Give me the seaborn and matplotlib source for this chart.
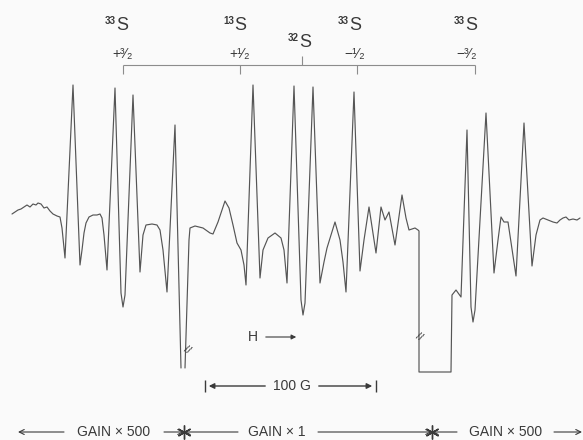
# EPR spectrum (sulfur isotopes) - redrawn from the scanned figure

import numpy as np
import pandas as pd
import seaborn as sns
import matplotlib.pyplot as plt

# trace, x in chart divisions, signal = pen deflection from baseline
left_field = [12, 15, 18, 21, 24, 27, 30, 33, 36, 38, 41, 44, 47, 50, 53, 57, 60, 62, 65,
              73, 80, 82, 84, 86, 89, 93, 97, 100, 102, 104, 107, 115, 121, 123, 125, 133,
              140, 143, 146, 152, 157, 160, 163, 167, 175, 181]
left_signal = [1, 3, 5, 6, 8, 10, 8, 11, 10, 12, 11, 7, 8, 4, 1, -1, -2, -13, -43,
               130, -50, -35, -18, -8, -2, 0, 0, 1, -3, -20, -55, 127, -78, -92, -80, 120,
               -57, -20, -10, -9, -10, -15, -35, -77, 90, -153]

main_field = [185, 189, 190, 195, 203, 210, 213, 218, 225, 229, 233, 237, 241, 244, 246,
              253, 260, 263, 268, 275, 281, 284, 287, 294, 301, 303, 305, 313, 320, 324,
              327, 331, 335, 340, 343, 346, 354, 360, 364, 369, 376, 381, 385, 389, 395,
              402, 406, 409, 412, 415, 418, 419, 419, 451, 452, 456, 461, 467, 471, 473,
              475, 486, 494, 498, 501, 504, 508, 516, 524, 532, 536, 540, 543, 548, 553,
              557, 560, 563, 566, 569, 573, 577, 580]
main_signal = [-153, -25, -13, -11, -13, -18, -19, -7, 14, 7, -10, -28, -35, -50, -70,
               130, -63, -35, -23, -18, -23, -35, -68, 129, -85, -100, -88, 128, -68, -47,
               -33, -20, -7, -25, -47, -77, 123, -56, -25, 8, -38, 8, -5, 3, -30,
               20, -3, -15, -14, -13, -15, -16, -157, -157, -80, -75, -82, 85, -92, -107,
               -95, 102, -58, -25, -2, -7, -7, -61, 92, -51, -20, -5, -3, -5, -7,
               -8, -5, -3, -2, -5, -4, -5, -3]

iso_mass = ["33", "13", "32", "33", "33"]
iso_field = [116, 234, 299, 349, 465]
iso_height = [190, 190, 173, 190, 190]

mi_labels = ["+³⁄₂", "+¹⁄₂", "−¹⁄₂", "−³⁄₂"]
mi_field = [123, 240, 357, 475]
mi_label_x = [123, 240, 355, 467]
center_field = 302

gain_labels = ["GAIN × 500", "GAIN × 1", "GAIN × 500"]
gain_centers = [114, 277, 506]
gain_switch = [184, 432]

df = pd.concat([
    pd.DataFrame({"field": left_field, "signal": left_signal, "part": "a"}),
    pd.DataFrame({"field": main_field, "signal": main_signal, "part": "b"}),
])

sns.set_style("white")
plt.rcParams['font.family'] = ['Liberation Sans', 'DejaVu Sans']

ink = "#3a3a3a"
pale = "#8c8c8c"
BASE = 215


def py(y):
    # pixel row of the scan -> deflection units
    return BASE - y


fig = plt.figure(figsize=(5.83, 4.4), dpi=100, facecolor="#fafafa")
ax = fig.add_axes([0, 0, 1, 1])
ax.set_facecolor("#fafafa")

sns.lineplot(data=df, x="field", y="signal", units="part", estimator=None, sort=False,
             color="#555555", lw=0.85, ax=ax, legend=False)

# stick diagram
ax.hlines(py(65), mi_field[0], mi_field[-1], color=pale, lw=0.8)
for f in mi_field:
    ax.vlines(f, py(74), py(65), color=pale, lw=0.8)
ax.vlines(center_field, py(65), py(56), color=pale, lw=0.8)
for lab, f in zip(mi_labels, mi_label_x):
    ax.text(f, py(54), lab, ha="center", va="center", fontsize=10, color=ink)

for m, f, h in zip(iso_mass, iso_field, iso_height):
    ax.text(f, h, "S", ha="left", va="center", fontsize=13, color=ink)
    ax.text(f, h + 4, m, ha="right", va="center", fontsize=7, weight="bold", color=ink)

# break marks on the off-scale lines
ax.text(187, py(350), "//", ha="center", va="center", fontsize=8,
        color=ink, rotation=-30)
ax.text(419, py(337), "//", ha="center", va="center", fontsize=8,
        color=ink, rotation=-30)

# field direction
ax.text(253, py(337), "H", ha="center", va="center", fontsize=10, color=ink)
ax.annotate("", xy=(299, py(337)), xytext=(263, py(337)),
            arrowprops=dict(arrowstyle="-|>", lw=0.8, color=ink, mutation_scale=7))

# 100 G scale bar
ax.text(292, py(386), "100 G", ha="center", va="center", fontsize=10, color=ink)
ax.annotate("", xy=(206, py(386)), xytext=(268, py(386)),
            arrowprops=dict(arrowstyle="-|>", lw=1.0, color=ink, mutation_scale=8))
ax.annotate("", xy=(375, py(386)), xytext=(316, py(386)),
            arrowprops=dict(arrowstyle="-|>", lw=1.0, color=ink, mutation_scale=8))
ax.vlines([205, 376], py(392), py(380), color=ink, lw=1.0)

# gain row
gy = py(432)
for lab, c in zip(gain_labels, gain_centers):
    ax.text(c, gy, lab, ha="center", va="center", fontsize=10, color=ink)
arrows = [(64, 18), (164, gain_switch[0]), (238, gain_switch[0]),
          (318, gain_switch[1]), (457, gain_switch[1]), (554, 582)]
for a, b in arrows:
    ax.annotate("", xy=(b, gy), xytext=(a, gy),
                arrowprops=dict(arrowstyle="->", lw=0.8, color=ink, mutation_scale=9,
                                shrinkA=0, shrinkB=0))
ax.plot(gain_switch, [gy, gy], ls="none", marker=(6, 2, 0), ms=10, mew=1.0, color=ink)

ax.set_xlim(0, 583)
ax.set_ylim(py(440), py(0))
ax.axis("off")

plt.savefig("out.png", dpi=100, facecolor=fig.get_facecolor())
